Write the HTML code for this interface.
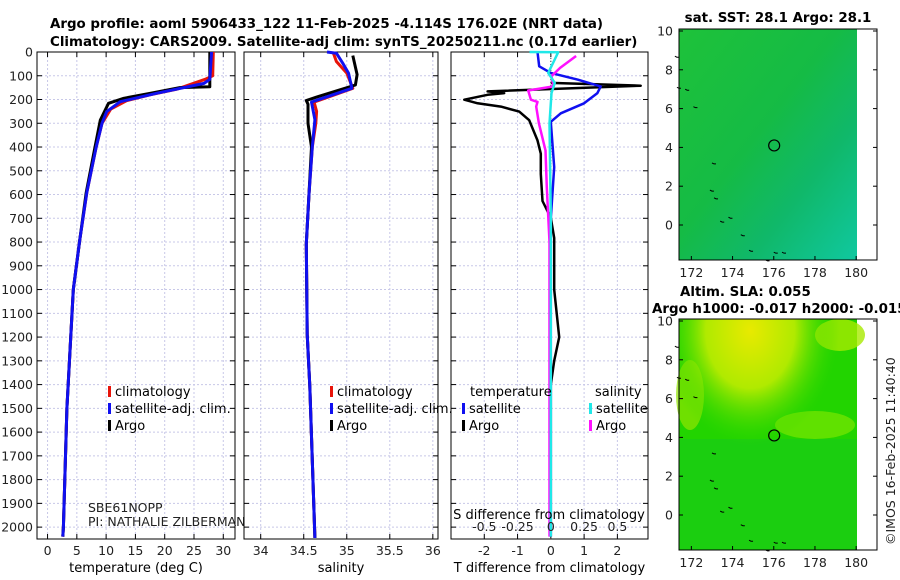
<!DOCTYPE html>
<html><head><meta charset="utf-8">
<style>
body{margin:0;background:#fff;}
svg{display:block;font-family:"DejaVu Sans","Liberation Sans",sans-serif;}
.t{font-size:13.4px;font-weight:bold;}
.tk{font-size:12.5px;fill:#222;}
.lg{font-size:13px;fill:#000;}
</style></head><body>
<svg id="chart" width="900" height="580" viewBox="0 0 900 580" xmlns="http://www.w3.org/2000/svg">
<defs>
<linearGradient id="sstg" x1="0" y1="0" x2="1" y2="1">
<stop offset="0" stop-color="#1ec23a"/><stop offset="0.45" stop-color="#15bb45"/><stop offset="0.7" stop-color="#10b86a"/><stop offset="1" stop-color="#10c8a0"/>
</linearGradient>
<radialGradient id="slag" cx="0.4" cy="0.05" r="0.5">
<stop offset="0" stop-color="#e8ea00"/><stop offset="0.5" stop-color="#b0ea00"/><stop offset="1" stop-color="#30d800" stop-opacity="0"/>
</radialGradient>
</defs>
<text class="t" x="50" y="28">Argo profile: aoml 5906433_122 11-Feb-2025 -4.114S 176.02E (NRT data)</text>
<text class="t" x="50" y="46">Climatology: CARS2009. Satellite-adj clim: synTS_20250211.nc (0.17d earlier)</text>
<g id="panels"></g>
<g id="maps"></g>
<text class="tk" transform="translate(895,545) rotate(-90)">©IMOS 16-Feb-2025 11:40:40</text>
</svg>
<script>
const depthTicks=[0,100,200,300,400,500,600,700,800,900,1000,1100,1200,1300,1400,1500,1600,1700,1800,1900,2000];
const tempTicks=[0,5,10,15,20,25,30];
const salTicks=[34,34.5,35,35.5,36];
const tdTicks=[-2,-1,0,1,2];
const tdLabels=["-2","-1","0","1","2"];
const sdTicks=[-0.5,-0.25,0,0.25,0.5];
const sdLabels=["-0.5","-0.25","0","0.25","0.5"];
const lonTicks=[172,174,176,178,180];
const latTicks=[0,2,4,6,8,10];
// profiles: [depth, value]
const argoT=[[0,27.7],[146,27.7],[150,22.6],[174,17.5],[195,13],[216,10.4],[287,9.0],[400,8.1],[592,6.6],[790,5.5],[1000,4.4],[1500,3.3],[2000,2.7],[2040,2.6]];
const climT=[[0,28.3],[100,28.2],[115,26.9],[157,22],[180,17.5],[205,13.5],[240,10.8],[300,9.3],[400,8.3],[592,6.7],[790,5.5],[1000,4.4],[1500,3.3],[2000,2.7],[2040,2.6]];
const satT=[[0,28],[115,27.7],[132,26.7],[174,18.6],[209,12.4],[251,10.1],[300,9.3],[400,8.3],[592,6.7],[790,5.5],[1000,4.4],[1500,3.3],[2000,2.7],[2040,2.6]];
const argoS=[[15,35.07],[95,35.12],[139,35.1],[190,34.65],[204,34.53],[220,34.55],[300,34.55],[400,34.59],[605,34.56],[808,34.53],[1188,34.54],[1406,34.57],[2046,34.63]];
const climS=[[0,34.84],[40,34.88],[89,35.0],[153,35.07],[211,34.62],[250,34.65],[300,34.64],[400,34.6],[605,34.56],[808,34.53],[1188,34.54],[1406,34.57],[2046,34.63]];
const satS=[[0,34.77],[5,34.88],[51,34.96],[89,35.02],[153,35.06],[211,34.59],[285,34.63],[400,34.6],[605,34.56],[808,34.53],[1188,34.54],[1406,34.57],[2046,34.63]];
const argoTd=[[130,0],[142,2.7],[166,-1.9],[173,-1.4],[180,-1.9],[201,-2.6],[216,-2.2],[230,-1.5],[251,-0.95],[287,-0.65],[372,-0.4],[428,-0.3],[513,-0.3],[627,-0.25],[698,0],[783,0.1],[1000,0.1],[1200,0.25],[1300,0.1],[1400,0],[2040,0]];
const satTd=[[0,-0.4],[60,-0.35],[88,0],[116,0.8],[145,1.5],[173,1.4],[216,1.0],[258,0.3],[294,0],[485,0.1],[700,0],[2040,0]];
const argoSd=[[17,0.19],[67,0.07],[102,0.005],[145,0.02],[162,-0.17],[201,-0.15],[210,-0.1],[230,-0.11],[300,-0.09],[414,-0.04],[570,-0.03],[800,-0.01],[2040,-0.01]];
const satSd=[[0,-0.16],[1,0.055],[31,0.03],[88,-0.02],[130,0.03],[173,0.005],[300,-0.01],[700,0],[2040,0]];
const sst=28.1, sla=0.055, argoLon=176.02, argoLat=4.1;

const NS="http://www.w3.org/2000/svg";
function mk(tag,attrs,parent){const e=document.createElementNS(NS,tag);for(const k in attrs)e.setAttribute(k,attrs[k]);parent.appendChild(e);return e;}
const yTop=52,yBot=539,dmax=2050;
const yD=d=>yTop+d/dmax*(yBot-yTop);
const P=document.getElementById('panels');
function panel(x0,x1,vmin,vmax,ticks,labels,name,xlabel){
  const g=mk('g',{},P);
  
  
  const sx=v=>x0+(v-vmin)/(vmax-vmin)*(x1-x0);
  depthTicks.forEach(d=>{const l=mk('line',{x1:x0,x2:x1,y1:yD(d),y2:yD(d),stroke:'#c8c8e8','stroke-dasharray':'2,2','stroke-width':1},g);
    
    
    mk('line',{x1:x0,x2:x0+5,y1:yD(d),y2:yD(d),stroke:'#000'},g);mk('line',{x1:x1-5,x2:x1,y1:yD(d),y2:yD(d),stroke:'#000'},g);});
  ticks.forEach((v,i)=>{mk('line',{x1:sx(v),x2:sx(v),y1:yTop,y2:yBot,stroke:'#c8c8e8','stroke-dasharray':'2,2'},g);
    mk('line',{x1:sx(v),x2:sx(v),y1:yBot,y2:yBot-5,stroke:'#000'},g);mk('line',{x1:sx(v),x2:sx(v),y1:yTop,y2:yTop+5,stroke:'#000'},g);
    if(labels){const t=mk('text',{x:sx(v),y:yBot+16,'text-anchor':'middle',class:'tk'},g);t.textContent=labels[i];
      
      }});
  mk('rect',{x:x0,y:yTop,width:x1-x0,height:yBot-yTop,fill:'none',stroke:'#000','stroke-width':1},g);
  if(xlabel){const t=mk('text',{x:(x0+x1)/2,y:yBot+33,'text-anchor':'middle',class:'lg'},g);t.textContent=xlabel;
    
    }
  return {g,sx};
}
function line(p,data,color,w,name,scale){
  const d=data.map((q,i)=>(i?'L':'M')+p.sx(q[1]*(scale||1)).toFixed(1)+','+yD(q[0]).toFixed(1)).join('');
  const e=mk('path',{d:d,fill:'none',stroke:color,'stroke-width':w,'stroke-linejoin':'round'},p.g);
  
  
}
function txt(g,x,y,s,name,cls,anchor){const t=mk('text',{x:x,y:y,class:cls||'lg','text-anchor':anchor||'start'},g);t.textContent=s;
  
  
  return t;}
function legItem(g,x,y,color,label,name){const r=mk('rect',{x:x,y:y-10,width:3,height:11,fill:color},g);
  
  
  txt(g,x+7,y,label,name);}
depthTicks.forEach(d=>{txt(P,33,yD(d)+4.5,String(d),'y-tick-label','tk','end');});

const p1=panel(37,235,-1.8,32.0,tempTicks,tempTicks.map(String),'temperature-panel','temperature (deg C)');
line(p1,climT,'#e8140a',3,'climatology-temperature-line');
line(p1,argoT,'#000',3,'argo-temperature-line');
line(p1,satT,'#1010f0',3,'satellite-temperature-line');
legItem(p1.g,108,396,'#e8140a','climatology','legend-climatology');
legItem(p1.g,108,413,'#1010f0','satellite-adj. clim.','legend-satellite-adj');
legItem(p1.g,108,430,'#000','Argo','legend-argo');
txt(p1.g,88,512,'SBE61NOPP','sensor-label','tk');
txt(p1.g,88,526,'PI: NATHALIE ZILBERMAN','pi-label','tk');

const p2=panel(244,438,33.806,36.06,salTicks,['34','34.5','35','35.5','36'],'salinity-panel','salinity');
line(p2,climS,'#e8140a',3,'climatology-salinity-line');
line(p2,argoS,'#000',3,'argo-salinity-line');
line(p2,satS,'#1010f0',3,'satellite-salinity-line');
legItem(p2.g,330,396,'#e8140a','climatology','legend-climatology-s');
legItem(p2.g,330,413,'#1010f0','satellite-adj. clim.','legend-satellite-adj-s');
legItem(p2.g,330,430,'#000','Argo','legend-argo-s');

const p3=panel(451,648,-3.0,2.92,tdTicks,tdLabels,'difference-panel','T difference from climatology');
mk('line',{x1:p3.sx(0),x2:p3.sx(0),y1:yTop,y2:yBot,stroke:'#444','stroke-dasharray':'1,2'},p3.g);
line(p3,argoTd,'#000',2.5,'argo-temperature-diff-line');
line(p3,satTd,'#1010f0',2.5,'satellite-temperature-diff-line');
line(p3,argoSd,'#ff10ff',2.5,'argo-salinity-diff-line',4);
line(p3,satSd,'#20e8e8',2.5,'satellite-salinity-diff-line',4);
sdTicks.forEach((v,i)=>txt(p3.g,p3.sx(v*4),531,sdLabels[i],'s-tick-label','tk','middle'));
txt(p3.g,549,519,'S difference from climatology','s-axis-title','lg','middle');
txt(p3.g,470,396,'temperature','legend-temperature-header');
txt(p3.g,595,396,'salinity','legend-salinity-header');
legItem(p3.g,462,413,'#1010f0','satellite','legend-t-satellite');
legItem(p3.g,462,430,'#000','Argo','legend-t-argo');
legItem(p3.g,589,413,'#20e8e8','satellite','legend-s-satellite');
legItem(p3.g,589,430,'#ff10ff','Argo','legend-s-argo');

const M=document.getElementById('maps');
function map(y0,name,fill,extra){
  const g=mk('g',{},M);
  
  
  const x0=679,x1=877,h=231;
  const sx=l=>679+(l-171.4)*20.6, sy=la=>y0+2+(10-la)*19.4;
  const bg=mk('rect',{x:x0,y:y0,width:857-x0,height:h,fill:fill},g);
  
  
  if(extra)extra(g,x0,y0,h);
  [[171.2,8.7],[171.3,7.1],[171.7,7.0],[172.1,6.1],[173.0,3.2],[172.9,1.8],[173.1,1.4],[173.4,0.2],[173.8,0.4],[174.4,-0.5],[174.8,-1.3],[175.6,-1.8],[176,-1.4],[176.4,-1.4]].forEach(q=>{
    mk('path',{d:`M${sx(q[0])},${sy(q[1])}l2,1l2,0`,stroke:'#000','stroke-width':1,fill:'none'},g);});
  const c=mk('circle',{cx:sx(argoLon),cy:sy(argoLat),r:5.5,fill:'none',stroke:'#000','stroke-width':1.2},g);
  
  
  mk('rect',{x:x0,y:y0,width:x1-x0,height:h,fill:'none',stroke:'#000'},g);
  lonTicks.forEach(l=>{mk('line',{x1:sx(l),x2:sx(l),y1:y0+h,y2:y0+h-4,stroke:'#000'},g);
    txt(g,sx(l),y0+h+17,String(l),'lon-tick-label','tk','middle');});
  latTicks.forEach(la=>{mk('line',{x1:x0,x2:x0+4,y1:sy(la),y2:sy(la),stroke:'#000'},g);mk('line',{x1:x1,x2:x1-4,y1:sy(la),y2:sy(la),stroke:'#000'},g);
    txt(g,x0-6,sy(la)+4.5,String(la),'lat-tick-label','tk','end');});
  return g;
}
const m1=map(29,'sst-map','url(#sstg)');
txt(m1,778,22,'sat. SST: '+sst+' Argo: '+sst,'sst-map-title','t','middle');
const m2=map(319,'sla-map','#22d400',(g,x0,y0,h)=>{
  mk('rect',{x:x0,y:y0+120,width:178,height:111,fill:'#14c820',opacity:0.5},g);
  mk('ellipse',{cx:815,cy:425,rx:40,ry:14,fill:'#70e400',opacity:0.8},g);
  mk('ellipse',{cx:690,cy:395,rx:14,ry:35,fill:'#90e600',opacity:0.7},g);
  mk('ellipse',{cx:840,cy:335,rx:25,ry:16,fill:'#a8ea00',opacity:0.8},g);
  mk('rect',{x:x0,y:y0,width:178,height:h,fill:'url(#slag)'},g);
});
txt(m2,680,296,'Altim. SLA: '+sla,'sla-map-title','t');
txt(m2,652,313,'Argo h1000: -0.017 h2000: -0.015','sla-map-subtitle','t');
</script>
</body></html>
